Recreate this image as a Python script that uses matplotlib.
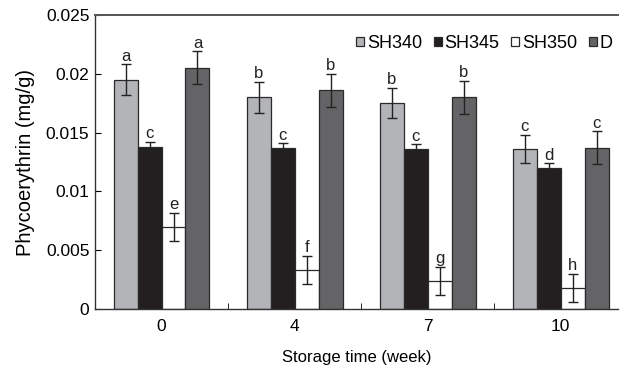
import numpy as np
import matplotlib
matplotlib.use('Agg')
from matplotlib import pyplot as plt

plt.rcParams['font.family'] = ['Liberation Sans', 'DejaVu Sans']

# Data
weeks = ['0', '4', '7', '10']
series = ['SH340', 'SH345', 'SH350', 'D']
sh340 = [0.0195, 0.0180, 0.0175, 0.0136]
sh345 = [0.0138, 0.0137, 0.0136, 0.0120]
sh350 = [0.0070, 0.0033, 0.0024, 0.0018]
d_vals = [0.0205, 0.0186, 0.0180, 0.0137]
sh340_err = [0.0013, 0.0013, 0.0013, 0.0012]
sh345_err = [0.0004, 0.0004, 0.0004, 0.0004]
sh350_err = [0.0012, 0.0012, 0.0012, 0.0012]
d_err = [0.0014, 0.0014, 0.0014, 0.0014]
sh340_lbl = ['a', 'b', 'b', 'c']
sh345_lbl = ['c', 'c', 'c', 'd']
sh350_lbl = ['e', 'f', 'g', 'h']
d_lbl = ['a', 'b', 'b', 'c']

values = [sh340, sh345, sh350, d_vals]
errors = [sh340_err, sh345_err, sh350_err, d_err]
letters = [sh340_lbl, sh345_lbl, sh350_lbl, d_lbl]
colors = ['#b3b4b8', '#231f20', '#ffffff', '#646466']

fig = plt.figure(figsize=(6.22, 3.65), dpi=100)
ax = fig.add_axes([95 / 622, 1 - 309 / 365, (618 - 95) / 622, (309 - 15) / 365])

x = np.arange(len(weeks))
width = 0.18
for i, (vals, errs, lbls, col) in enumerate(zip(values, errors, letters, colors)):
    pos = x + (i - 1.5) * width
    ax.bar(pos, vals, width, color=col, edgecolor='#2a2a2a', linewidth=0.9,
           label=series[i], zorder=2)
    ax.errorbar(pos, vals, yerr=errs, fmt='none', ecolor='#222222',
                elinewidth=1.0, capsize=3.5, capthick=1.0, zorder=3)
    for p, v, e, t in zip(pos, vals, errs, lbls):
        ax.text(p, v + e + 0.00005, t, ha='center', va='bottom', fontsize=12,
                color='#222222')

ax.set_xlim(-0.5, 3.43)
ax.set_ylim(0, 0.025)
ax.set_yticks([0, 0.005, 0.01, 0.015, 0.02, 0.025])
ax.set_yticklabels(['0', '0.005', '0.01', '0.015', '0.02', '0.025'], fontsize=12.5)
ax.set_xticks(x)
ax.set_xticklabels(weeks, fontsize=12.5)
ax.tick_params(axis='x', length=0, pad=7)
ax.set_xticks([0.5, 1.5, 2.5], minor=True)
ax.tick_params(axis='x', which='minor', direction='in', length=4)
ax.tick_params(axis='y', direction='in', length=4, pad=4)

for s in ['left', 'bottom', 'top']:
    ax.spines[s].set_color('#333333')
    ax.spines[s].set_linewidth(1.0)
ax.spines['top'].set_color('#555555')
ax.spines['top'].set_linewidth(1.4)
ax.spines['right'].set_visible(False)

ax.set_ylabel('Phycoerythrin (mg/g)', fontsize=14.5, labelpad=8)
ax.set_xlabel('Storage time (week)', fontsize=12, labelpad=12)

leg = ax.legend(loc='upper right', bbox_to_anchor=(1.014, 0.975), ncol=4,
                frameon=False, fontsize=13, handlelength=0.45, handleheight=0.45,
                handletextpad=0.15, columnspacing=0.65, borderpad=0.2)

fig.savefig('out.png', dpi=100)
